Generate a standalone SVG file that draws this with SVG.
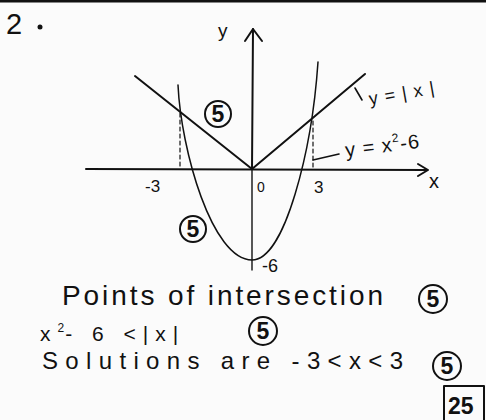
<svg xmlns="http://www.w3.org/2000/svg" width="486" height="420" viewBox="0 0 486 420">
<style>
.ln{stroke:#111;fill:none;stroke-linecap:round;stroke-linejoin:round}
.t{font-family:"Liberation Sans","DejaVu Sans",sans-serif;fill:#111}
.c{stroke:#111;stroke-width:2;fill:none}
.cn{font-family:"Liberation Sans","DejaVu Sans",sans-serif;font-size:23px;font-weight:bold;fill:#111;text-anchor:middle}
</style>
<rect width="486" height="420" fill="#fbfbfb"/>
<rect x="0" y="0" width="486" height="2.5" fill="#111"/>
<g id="title">
<text class="t" x="6" y="34" font-size="29">2</text>
<circle cx="40" cy="27" r="2.5" fill="#111"/>
</g>
<g id="axes">
<line class="ln" x1="86" y1="169" x2="427" y2="170" stroke-width="2"/>
<polyline class="ln" points="418,164 428,170 418,176" stroke-width="2"/>
<line class="ln" x1="253" y1="29" x2="252" y2="169" stroke-width="2"/>
<line class="ln" x1="252" y1="169" x2="252" y2="270" stroke-width="1.4"/>
<polyline class="ln" points="245,41 253,29 262,41" stroke-width="2"/>
<text class="t" x="218" y="37" font-size="19">y</text>
<text class="t" x="429" y="188" font-size="20">x</text>
<text class="t" x="145" y="192" font-size="17">-3</text>
<text class="t" x="257" y="192" font-size="14">0</text>
<text class="t" x="314" y="193" font-size="17">3</text>
<text class="t" x="262" y="272" font-size="18">-6</text>
</g>
<g id="abs-graph">
<polyline class="ln" points="135,76 252,169 365,74" stroke-width="2"/>
<line class="ln" x1="355" y1="88" x2="362" y2="100" stroke-width="1.6"/>
<text class="t" x="370" y="105" font-size="18" textLength="66" lengthAdjust="spacing" transform="rotate(-10 370 105)">y=|x|</text>
</g>
<g id="parabola">
<path class="ln" d="M178,85 C181,150 212,260 252,260 C285,260 312,150 318,62" stroke-width="1.5"/>
<line class="ln" x1="313" y1="160" x2="339" y2="154" stroke-width="1.6"/>
<text class="t" x="346" y="157" font-size="20" letter-spacing="1" transform="rotate(-7 346 157)">y = x<tspan font-size="12" dy="-9">2</tspan><tspan dy="9">-6</tspan></text>
</g>
<g id="guides">
<line class="ln" x1="180" y1="113" x2="180" y2="169" stroke-width="1.2" stroke-dasharray="4,3"/>
<line class="ln" x1="313" y1="121" x2="313" y2="169" stroke-width="1.2" stroke-dasharray="4,3"/>
</g>
<g id="marks">
<circle class="c" cx="218" cy="114" r="13"/><text class="cn" x="218" y="122">5</text>
<circle class="c" cx="193" cy="229" r="13"/><text class="cn" x="193" y="237">5</text>
<circle class="c" cx="433" cy="299" r="14"/><text class="cn" x="433" y="307">5</text>
<circle class="c" cx="263" cy="331" r="14"/><text class="cn" x="263" y="339">5</text>
<circle class="c" cx="447" cy="366" r="14"/><text class="cn" x="447" y="374">5</text>
</g>
<g id="answer">
<text class="t" x="62" y="305" font-size="28" textLength="321" lengthAdjust="spacing">Points of intersection</text>
<text class="t" x="40" y="341" font-size="21" letter-spacing="7">x<tspan font-size="12" dy="-9" letter-spacing="1">2</tspan><tspan dy="9">- 6 &lt;|x|</tspan></text>
<text class="t" x="42" y="369" font-size="24" textLength="361" lengthAdjust="spacing">Solutions are -3&lt;x&lt;3</text>
</g>
<g id="score">
<polyline class="ln" points="444,420 444,386 484,386 484,420" stroke-width="2"/>
<text class="t" x="448" y="414" font-size="23" font-weight="bold">25</text>
</g>
</svg>
